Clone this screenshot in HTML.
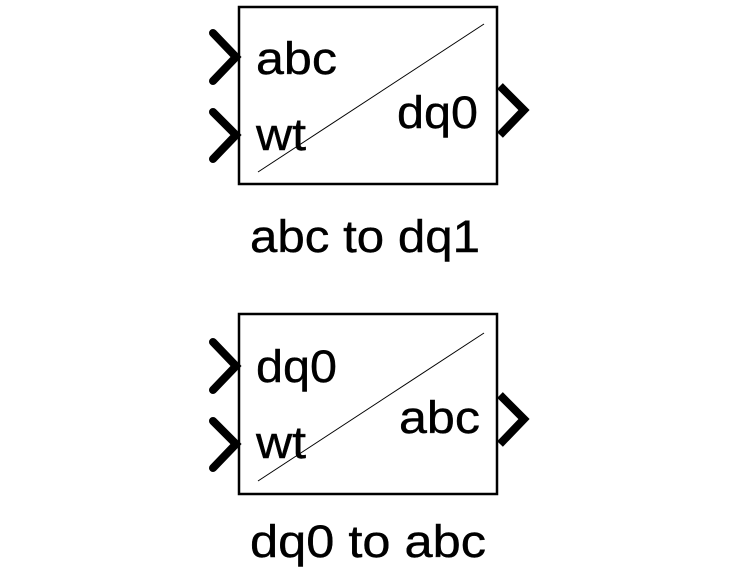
<!DOCTYPE html>
<html><head><style>html,body{margin:0;padding:0;background:#fff;}svg{display:block}</style></head>
<body>
<svg width="739" height="576" viewBox="0 0 739 576" xmlns="http://www.w3.org/2000/svg" font-family="Liberation Sans, Arial, sans-serif" fill="#000">
<g>
<rect x="239" y="7" width="258" height="177" fill="#fff" stroke="#000" stroke-width="2.5"/>
<line x1="258" y1="172" x2="484" y2="24" stroke="#000" stroke-width="1"/>
<polyline points="213,33 236,57 213,81" fill="none" stroke="#000" stroke-width="8" stroke-linecap="round"/>
<polyline points="213,112 236,135 213,159" fill="none" stroke="#000" stroke-width="8" stroke-linecap="round"/>
<polyline points="500,86 524,110 500,135" fill="none" stroke="#000" stroke-width="8"/>
<text x="256" y="74" font-size="45" stroke="#000" stroke-width="0.4" textLength="81" lengthAdjust="spacingAndGlyphs">abc</text>
<text x="256" y="150" font-size="45" stroke="#000" stroke-width="0.4" textLength="50" lengthAdjust="spacingAndGlyphs">wt</text>
<text x="397" y="128" font-size="45" stroke="#000" stroke-width="0.4" textLength="81" lengthAdjust="spacingAndGlyphs">dq0</text>
<text x="250" y="252" font-size="45" stroke="#000" stroke-width="0.4" textLength="230" lengthAdjust="spacingAndGlyphs">abc to dq1</text>
</g>
<g>
<rect x="239" y="314" width="258" height="180" fill="#fff" stroke="#000" stroke-width="2.5"/>
<line x1="258" y1="481" x2="484" y2="333" stroke="#000" stroke-width="1"/>
<polyline points="213,342 236,366 213,390" fill="none" stroke="#000" stroke-width="8" stroke-linecap="round"/>
<polyline points="213,421 236,444 213,468" fill="none" stroke="#000" stroke-width="8" stroke-linecap="round"/>
<polyline points="500,395 524,419 500,444" fill="none" stroke="#000" stroke-width="8"/>
<text x="256" y="382" font-size="45" stroke="#000" stroke-width="0.4" textLength="81" lengthAdjust="spacingAndGlyphs">dq0</text>
<text x="256" y="458" font-size="45" stroke="#000" stroke-width="0.4" textLength="50" lengthAdjust="spacingAndGlyphs">wt</text>
<text x="399" y="433" font-size="45" stroke="#000" stroke-width="0.4" textLength="81" lengthAdjust="spacingAndGlyphs">abc</text>
<text x="250" y="557" font-size="45" stroke="#000" stroke-width="0.4" textLength="236" lengthAdjust="spacingAndGlyphs">dq0 to abc</text>
</g>
</svg>
</body></html>
